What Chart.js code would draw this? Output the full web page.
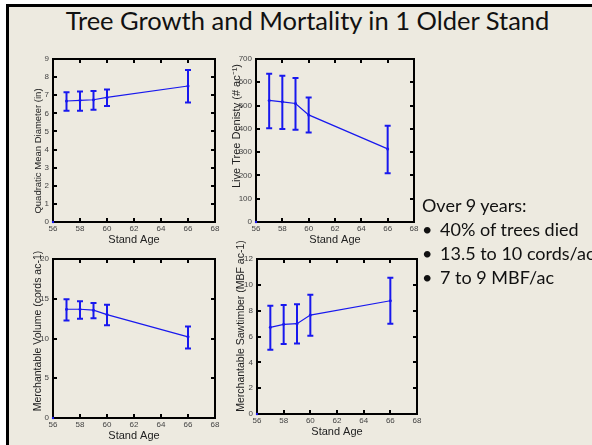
<!DOCTYPE html>
<html>
<head>
<meta charset="utf-8">
<script src="https://cdn.jsdelivr.net/npm/chart.js@4"></script>
<style>
  body { margin: 0; background: #fff; }
  #page { position: relative; width: 592px; height: 445px; overflow: hidden; background: #fff; }
  #slide { position: absolute; left: 6px; top: 4px; width: 600px; height: 460px;
           background: #edeae0; border-left: 3px solid #000; border-top: 3px solid #000; }
  canvas { position: absolute; left: 0; top: 0; }
  #title { position: absolute; left: 0; width: 615px; top: 5px; text-align: center;
           font-family: Lato, sans-serif; font-size: 25.5px; color: #111; white-space: nowrap; }
  #notes { position: absolute; left: 422px; top: 193px; font-family: Lato, sans-serif;
           font-size: 18px; color: #111; line-height: 24px; white-space: nowrap; }
  #notes ul { margin: 0; padding: 0; list-style: none; }
  #notes li { position: relative; padding-left: 18px; }
  #notes li::before { content: "\2022"; position: absolute; left: 0; }
</style>
</head>
<body>
<div id="page">
  <div id="slide"></div>
  <div id="title">Tree Growth and Mortality in 1 Older Stand</div>
  <canvas id="c1" width="592" height="445"></canvas>
  <canvas id="c2" width="592" height="445"></canvas>
  <canvas id="c3" width="592" height="445"></canvas>
  <canvas id="c4" width="592" height="445"></canvas>
  <div id="notes">
    <div>Over 9 years:</div>
    <ul>
      <li>40% of trees died</li>
      <li>13.5 to 10 cords/ac</li>
      <li>7 to 9 MBF/ac</li>
    </ul>
  </div>
</div>
<script>
const standAge = [57, 58, 59, 60, 66];
const ageTicks = [56, 58, 60, 62, 64, 66, 68];

const qmd = [6.68, 6.72, 6.75, 6.88, 7.51];
const qmdLow = [6.14, 6.14, 6.20, 6.40, 6.60];
const qmdHigh = [7.16, 7.21, 7.23, 7.32, 8.39];

const density = [522, 516, 509, 460, 314];
const densityLow = [403, 399, 396, 384, 209];
const densityHigh = [637, 628, 618, 535, 413];

const volume = [13.68, 13.68, 13.56, 13.01, 10.21];
const volumeLow = [12.26, 12.47, 12.55, 11.67, 8.74];
const volumeHigh = [14.94, 14.69, 14.48, 14.23, 11.51];

const sawtimber = [6.71, 6.94, 6.99, 7.66, 8.77];
const sawtimberLow = [4.98, 5.42, 5.45, 6.06, 6.99];
const sawtimberHigh = [8.39, 8.44, 8.49, 9.24, 10.55];

const BLUE = '#1818ee';

// box around the axes with inward ticks, matlab style
const boxTicks = {
    id: 'boxTicks',
    beforeDatasetsDraw(chart) {
        const {ctx, chartArea: a, scales: {x, y}} = chart;
        ctx.save();
        ctx.strokeStyle = '#000';
        ctx.lineWidth = 2;
        ctx.strokeRect(a.left, a.top, a.right - a.left, a.bottom - a.top);
        ctx.beginPath();
        x.ticks.forEach(t => {
            const px = Math.round(x.getPixelForValue(t.value));
            ctx.moveTo(px, a.bottom); ctx.lineTo(px, a.bottom - 4);
            ctx.moveTo(px, a.top); ctx.lineTo(px, a.top + 4);
        });
        y.ticks.forEach(t => {
            const py = Math.round(y.getPixelForValue(t.value));
            ctx.moveTo(a.left, py); ctx.lineTo(a.left + 4, py);
            ctx.moveTo(a.right, py); ctx.lineTo(a.right - 4, py);
        });
        ctx.stroke();
        ctx.restore();
    }
};

// vertical error bars with caps, from the dataset's low/high arrays
const errorBars = {
    id: 'errorBars',
    afterDatasetsDraw(chart) {
        const {ctx, scales: {x, y}} = chart;
        const ds = chart.data.datasets[0];
        ctx.save();
        ctx.strokeStyle = BLUE;
        ctx.lineWidth = 2;
        ctx.beginPath();
        ds.data.forEach((p, i) => {
            const px = x.getPixelForValue(p.x);
            const y1 = y.getPixelForValue(ds.errLow[i]);
            const y2 = y.getPixelForValue(ds.errHigh[i]);
            ctx.moveTo(px, y1); ctx.lineTo(px, y2);
            ctx.moveTo(px - 3, y1); ctx.lineTo(px + 3, y1);
            ctx.moveTo(px - 3, y2); ctx.lineTo(px + 3, y2);
        });
        ctx.stroke();
        ctx.restore();
    }
};

// rotated y axis label at a fixed spot
const yLabel = {
    id: 'yLabel',
    afterDraw(chart, args, opts) {
        const ctx = chart.ctx;
        ctx.save();
        ctx.translate(opts.x, opts.y);
        ctx.rotate(-Math.PI / 2);
        ctx.font = opts.size + 'px "Liberation Sans", Arial, sans-serif';
        ctx.fillStyle = '#222';
        ctx.textAlign = 'center';
        ctx.textBaseline = 'middle';
        ctx.fillText(opts.text, 0, 0);
        ctx.restore();
    }
};

function makeChart(id, values, low, high, yMax, yStep, label, area, labelPos) {
    const yw = 30, xh = 25;
    const points = standAge.map((a, i) => ({x: a, y: values[i]}));
    new Chart(document.getElementById(id), {
        type: 'line',
        data: {
            datasets: [{
                data: points,
                errLow: low,
                errHigh: high,
                borderColor: BLUE,
                backgroundColor: BLUE,
                borderWidth: 1.2,
                pointRadius: 1.5,
                pointBorderWidth: 0,
                tension: 0
            }, {
                data: [{x: 56, y: 0}],
                backgroundColor: BLUE,
                pointRadius: 1.2,
                pointBorderWidth: 0,
                showLine: false
            }]
        },
        options: {
            responsive: false,
            animation: false,
            clip: false,
            layout: {
                padding: {
                    left: area.l - yw,
                    top: area.t,
                    right: 592 - area.r,
                    bottom: 445 - area.b - xh
                }
            },
            scales: {
                x: {
                    type: 'linear',
                    min: 56, max: 68,
                    afterFit: s => { s.height = xh; },
                    afterBuildTicks: s => { s.ticks = ageTicks.map(v => ({value: v})); },
                    grid: { display: false, drawTicks: false },
                    border: { display: false },
                    ticks: { padding: 2, color: '#444', maxRotation: 0, autoSkip: false,
                             font: { family: 'Liberation Sans', size: 8 } },
                    title: { display: true, text: 'Stand Age', color: '#222',
                             padding: { top: 0, bottom: 0 },
                             font: { family: 'Liberation Sans', size: 11 } }
                },
                y: {
                    min: 0, max: yMax,
                    afterFit: s => { s.width = yw; },
                    grid: { display: false, drawTicks: false },
                    border: { display: false },
                    ticks: { stepSize: yStep, padding: 4, color: '#444',
                             font: { family: 'Liberation Sans', size: 8 } }
                }
            },
            plugins: {
                legend: { display: false },
                tooltip: { enabled: false },
                yLabel: { text: label, x: labelPos.x, y: labelPos.y, size: labelPos.size }
            }
        },
        plugins: [boxTicks, errorBars, yLabel]
    });
}

makeChart('c1', qmd, qmdLow, qmdHigh, 9, 1, 'Quadratic Mean Diameter (in)',
    {l: 53, r: 215, t: 59, b: 222}, {x: 38, y: 151, size: 9.5});
makeChart('c2', density, densityLow, densityHigh, 700, 100, 'Live Tree Denisty (# ac\u207B\u00B9)',
    {l: 256, r: 414, t: 59, b: 222}, {x: 237, y: 126, size: 11});
makeChart('c3', volume, volumeLow, volumeHigh, 20, 5, 'Merchantable Volume (cords ac-1)',
    {l: 53, r: 215, t: 259, b: 418}, {x: 38, y: 331, size: 10.5});
makeChart('c4', sawtimber, sawtimberLow, sawtimberHigh, 12, 2, 'Merchantable Sawtimber (MBF ac-1)',
    {l: 257, r: 417, t: 259, b: 414}, {x: 241, y: 326, size: 10.5});
</script>
</body>
</html>
